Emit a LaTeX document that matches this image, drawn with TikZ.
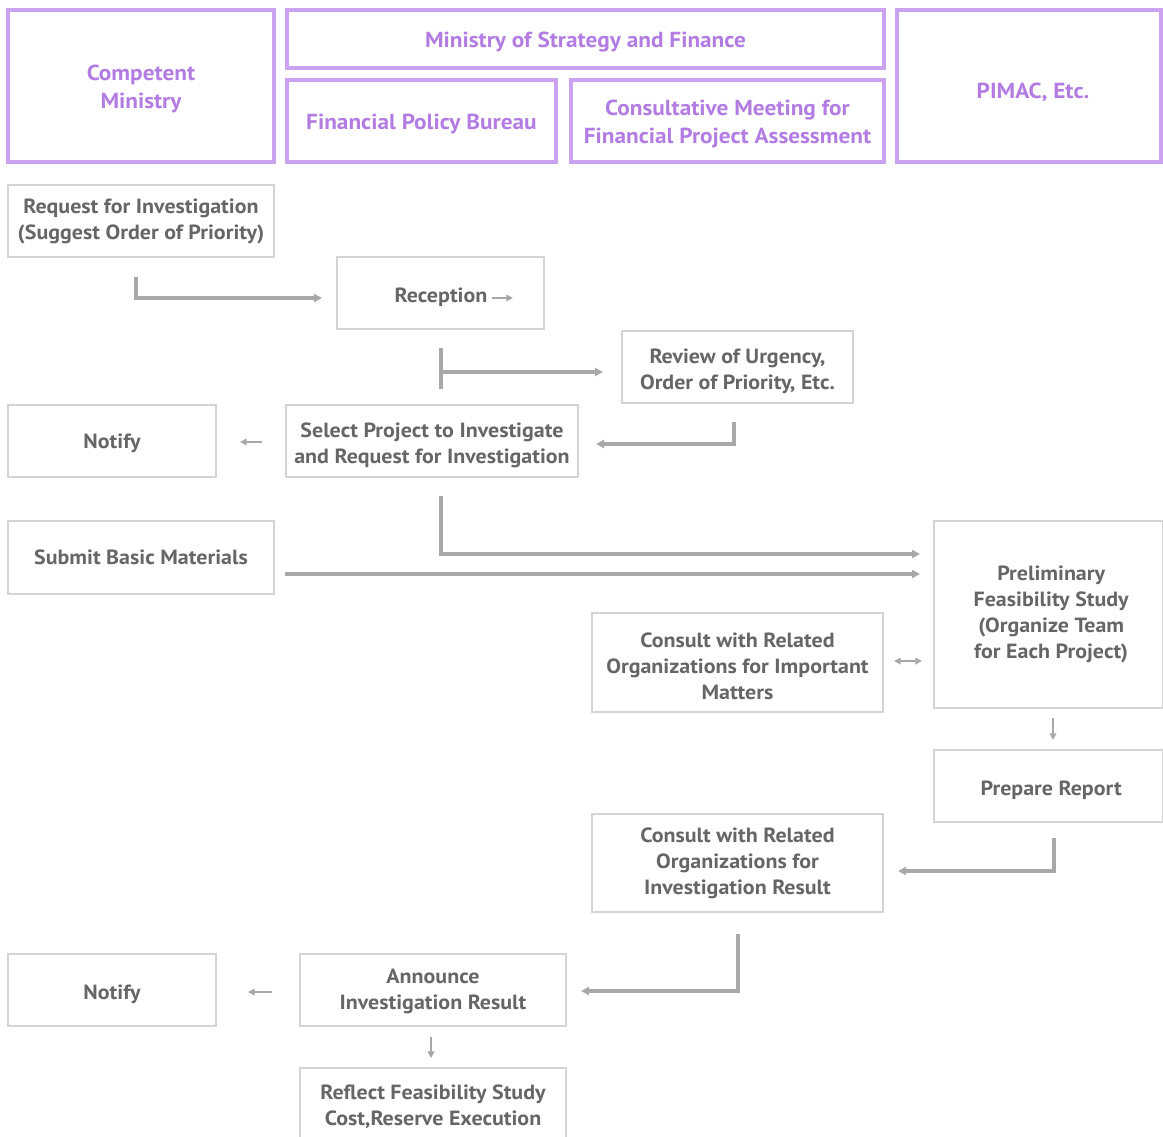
\documentclass[tikz,border=0pt]{standalone}
\usepackage{fontspec}
\setmainfont{PT Sans}
\newfontfamily\gfont{PT Sans}[FakeStretch=1.07]
\usetikzlibrary{arrows.meta,calc}
\definecolor{pborder}{HTML}{CBA2EF}
\definecolor{ptext}{HTML}{B27CE3}
\definecolor{gborder}{HTML}{D4D4D4}
\definecolor{gtext}{HTML}{666666}
\definecolor{garrow}{HTML}{A8A8A8}
\begin{document}
\begin{tikzpicture}[x=0.75pt,y=-0.75pt,
  wh/.style 2 args={minimum width=#1*0.75pt,minimum height=#2*0.75pt},
  hbox/.style={draw=pborder,line width=2.6pt,inner sep=0pt},
  gbox/.style={draw=gborder,line width=1.3pt,inner sep=0pt},
  ptxt/.style={inner sep=0pt,align=center,text=ptext,yshift=-2.5pt,
    font=\gfont\fontsize{16.3pt}{21pt}\selectfont\bfseries},
  gtxt/.style={inner sep=0pt,align=center,text=gtext,yshift=-3pt,
    font=\gfont\fontsize{15.4pt}{19.5pt}\selectfont\bfseries},
  conn/.style={draw=garrow,line width=2.4pt,-{Triangle[length=6pt,width=6pt]}},
  thin/.style={draw=garrow,line width=1.8pt,-{Triangle[length=5pt,width=5pt]}},
  thinboth/.style={draw=garrow,line width=1.8pt,{Triangle[length=5pt,width=5pt]}-{Triangle[length=5pt,width=5pt]}},
  plain/.style={draw=garrow,line width=2.4pt}]
\useasboundingbox (0,0) rectangle (1163,1136);
\fill[white] (0,0) rectangle (1163,1136);
% header
\node[hbox,wh={266}{152},label={[ptxt]center:Competent\\Ministry}] (cm) at (141,86) {};
\node[hbox,wh={597}{58},label={[ptxt]center:Ministry of Strategy and Finance}] (msf) at (585.5,39) {};
\node[hbox,wh={269}{82},label={[ptxt]center:Financial Policy Bureau}] (fpb) at (421.5,121) {};
\node[hbox,wh={313}{82},label={[ptxt]center:Consultative Meeting for\\Financial Project Assessment}] (cmf) at (727.5,121) {};
\node[hbox,wh={264}{152},label={[ptxt,xshift=3pt,yshift=-2.2pt]center:PIMAC, Etc.}] (pim) at (1029,86) {};
% grey boxes
\node[gbox,wh={266}{72},label={[gtxt,yshift=2.3pt]center:Request for Investigation\\(Suggest Order of Priority)}] (req) at (141,221) {};
\node[gbox,wh={207}{72}] (rec) at (440.5,293) {};
\node[gtxt] (rect) at (441,293) {Reception};
\node[gbox,wh={231}{72},label={[gtxt]center:Review of Urgency,\\Order of Priority, Etc.}] (rev) at (737.5,367) {};
\node[gbox,wh={208}{72},label={[gtxt,yshift=1.5pt]center:Notify}] (not1) at (112,441) {};
\node[gbox,wh={292}{72},label={[gtxt]center:Select Project to Investigate\\and Request for Investigation}] (sel) at (432,441) {};
\node[gbox,wh={266}{73},label={[gtxt,yshift=3pt]center:Submit Basic Materials}] (sub) at (141,557.5) {};
\node[gbox,wh={229}{187},label={[gtxt,xshift=2pt,yshift=3pt]center:Preliminary\\Feasibility Study\\(Organize Team\\for Each Project)}] (pfs) at (1048.5,614.5) {};
\node[gbox,wh={291}{99},label={[gtxt]center:Consult with Related\\Organizations for Important\\Matters}] (con1) at (737.5,662.5) {};
\node[gbox,wh={229}{72},label={[gtxt,xshift=2pt]center:Prepare Report}] (rep) at (1048.5,786) {};
\node[gbox,wh={291}{98},label={[gtxt,yshift=3pt]center:Consult with Related\\Organizations for\\Investigation Result}] (con2) at (737.5,863) {};
\node[gbox,wh={208}{72},label={[gtxt]center:Notify}] (not2) at (112,990) {};
\node[gbox,wh={266}{72},label={[gtxt,yshift=2.2pt]center:Announce\\Investigation Result}] (ann) at (433,990) {};
\node[gbox,wh={266}{72},label={[gtxt,yshift=0.8pt]center:Reflect Feasibility Study\\Cost,Reserve Execution}] (ref) at (433,1104) {};
% connector coordinates
\coordinate (a1s) at (136,277); \coordinate (a1e) at (322,298);
\coordinate (r1s) at (492,298); \coordinate (r1e) at (513,298);
\coordinate (a3t) at (441,348); \coordinate (a3b) at (441,389);
\coordinate (a3m) at (441,372); \coordinate (a3e) at (603,372);
\coordinate (a4s) at (734,422); \coordinate (a4e) at (596,444);
\coordinate (a5s) at (262,442); \coordinate (a5e) at (240,442);
\coordinate (a6s) at (441,496); \coordinate (a6e) at (920,554);
\coordinate (a7s) at (285,574); \coordinate (a7e) at (920,574);
\coordinate (a8s) at (894,661); \coordinate (a8e) at (922,661);
\coordinate (a9s) at (1053,718); \coordinate (a9e) at (1053,740);
\coordinate (a10s) at (1054,838); \coordinate (a10e) at (898,871);
\coordinate (a11s) at (738,934); \coordinate (a11e) at (581,991);
\coordinate (a12s) at (272,992); \coordinate (a12e) at (248,992);
\coordinate (a13s) at (431,1037); \coordinate (a13e) at (431,1058);
% connectors
\draw[conn] (a1s) |- (a1e);
\draw[thin] (r1s) -- (r1e);
\draw[plain] (a3t) -- (a3b);
\draw[conn] (a3m) -- (a3e);
\draw[conn] (a4s) |- (a4e);
\draw[thin] (a5s) -- (a5e);
\draw[conn] (a6s) |- (a6e);
\draw[conn] (a7s) -- (a7e);
\draw[thinboth] (a8s) -- (a8e);
\draw[thin] (a9s) -- (a9e);
\draw[conn] (a10s) |- (a10e);
\draw[conn] (a11s) |- (a11e);
\draw[thin] (a12s) -- (a12e);
\draw[thin] (a13s) -- (a13e);
\end{tikzpicture}
\end{document}
